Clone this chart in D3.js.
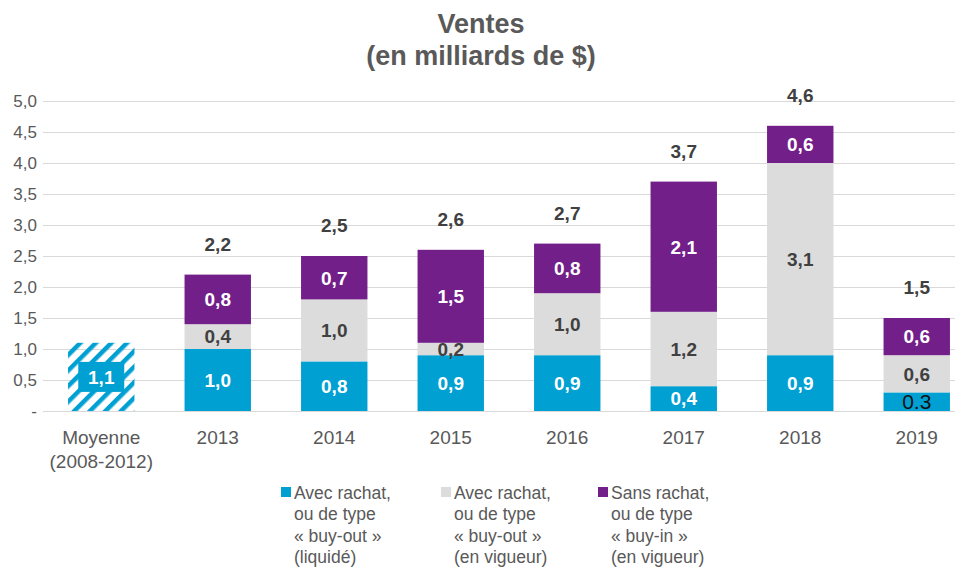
<!DOCTYPE html>
<html>
<head>
<meta charset="utf-8">
<script src="https://cdn.jsdelivr.net/npm/d3@7"></script>
<style>
  body { margin: 0; background: #fff; }
  text { font-family: "Liberation Sans", Arial, sans-serif; }
</style>
</head>
<body>
<script>
// categories and series
const categories = ["Moyenne (2008-2012)", "2013", "2014", "2015", "2016", "2017", "2018", "2019"];
const liquide = [1.1, 1.0, 0.8, 0.9, 0.9, 0.4, 0.9, 0.3];
const buyOut = [0, 0.4, 1.0, 0.2, 1.0, 1.2, 3.1, 0.6];
const buyIn = [0, 0.8, 0.7, 1.5, 0.8, 2.1, 0.6, 0.6];
const totals = [null, 2.2, 2.5, 2.6, 2.7, 3.7, 4.6, 1.5];
const yTicks = [0, 0.5, 1, 1.5, 2, 2.5, 3, 3.5, 4, 4.5, 5];
const seriesKeys = ["liquide", "buyOut", "buyIn"];
const legendLabels = [
  ["Avec rachat,", "ou de type", "« buy-out »", "(liquidé)"],
  ["Avec rachat,", "ou de type", "« buy-out »", "(en vigueur)"],
  ["Sans rachat,", "ou de type", "« buy-in »", "(en vigueur)"]
];

const width = 958, height = 568;
const colors = { liquide: "#00a0d3", buyOut: "#dcdcdc", buyIn: "#721f8a" };
const textGray = "#595959";
const fmt = v => d3.format(".1f")(v).replace(".", ",");

const data = categories.map((c, i) => ({ cat: c, liquide: liquide[i], buyOut: buyOut[i], buyIn: buyIn[i], total: totals[i] }));

const svg = d3.select("body").append("svg")
    .attr("width", width)
    .attr("height", height);

const defs = svg.append("defs");
const pat = defs.append("pattern")
    .attr("id", "hatch")
    .attr("patternUnits", "userSpaceOnUse")
    .attr("width", 11).attr("height", 11)
    .attr("patternTransform", "rotate(45)");
pat.append("rect").attr("width", 4.5).attr("height", 11).attr("fill", colors.liquide);

const x = d3.scaleBand()
    .domain(categories)
    .range([43, 975])
    .paddingInner(0.43)
    .paddingOuter(0.215);

const y = d3.scaleLinear()
    .domain([0, 5])
    .range([411, 101]);

// title
svg.append("text")
    .attr("x", 481).attr("y", 33)
    .attr("text-anchor", "middle")
    .attr("font-size", 27).attr("font-weight", "bold")
    .attr("fill", textGray)
    .text("Ventes");
svg.append("text")
    .attr("x", 481).attr("y", 65)
    .attr("text-anchor", "middle")
    .attr("font-size", 27).attr("font-weight", "bold")
    .attr("fill", textGray)
    .text("(en milliards de $)");

// y axis with gridlines
const yAxis = d3.axisLeft(y)
    .tickValues(yTicks)
    .tickSize(-912)
    .tickPadding(6)
    .tickFormat(d => d === 0 ? "-" : fmt(d));

svg.append("g")
    .attr("transform", "translate(43,0)")
    .call(yAxis)
    .call(g => g.select(".domain").remove())
    .call(g => g.selectAll(".tick line").attr("stroke", "#d9d9d9").attr("stroke-width", 1.2))
    .call(g => g.selectAll(".tick text")
        .attr("fill", textGray)
        .attr("font-size", 17)
        .attr("font-family", "Liberation Sans, Arial, sans-serif"));

// stacked bars
const stack = d3.stack().keys(seriesKeys)(data);

const layer = svg.append("g")
    .selectAll("g")
    .data(stack)
    .join("g");

layer.selectAll("rect")
    .data(d => d.map(p => ({ key: d.key, p })))
    .join("rect")
    .attr("x", d => x(d.p.data.cat))
    .attr("width", x.bandwidth())
    .attr("y", d => y(d.p[1]))
    .attr("height", d => y(d.p[0]) - y(d.p[1]))
    .attr("fill", d => (d.key === "liquide" && d.p.data.cat === categories[0]) ? "url(#hatch)" : colors[d.key]);

// hatched bar label box
const avg = data[0];
svg.append("rect")
    .attr("x", x(avg.cat) + x.bandwidth() / 2 - 23)
    .attr("y", y(avg.liquide / 2) - 15)
    .attr("width", 46).attr("height", 30)
    .attr("fill", colors.liquide);

// segment labels
const labels = [];
stack.forEach(s => s.forEach(p => {
  const v = p.data[s.key];
  if (!v) return;
  let txt = fmt(v), fill = s.key === "buyOut" ? "#404040" : "#fff", weight = "bold";
  if (s.key === "liquide" && p.data.cat === "2019") { txt = "0.3"; fill = "#111"; weight = "normal"; }
  labels.push({ cat: p.data.cat, mid: (p[0] + p[1]) / 2, txt, fill, weight });
}));

svg.append("g")
    .selectAll("text")
    .data(labels)
    .join("text")
    .attr("x", d => x(d.cat) + x.bandwidth() / 2)
    .attr("y", d => y(d.mid))
    .attr("dy", "0.36em")
    .attr("text-anchor", "middle")
    .attr("font-size", d => d.weight === "normal" ? 21 : 19)
    .attr("font-weight", d => d.weight)
    .attr("fill", d => d.fill)
    .text(d => d.txt);

// totals
svg.append("g")
    .selectAll("text")
    .data(data.filter(d => d.total != null))
    .join("text")
    .attr("x", d => x(d.cat) + x.bandwidth() / 2)
    .attr("y", d => y(d.liquide + d.buyOut + d.buyIn) - 24)
    .attr("text-anchor", "middle")
    .attr("font-size", 19).attr("font-weight", "bold")
    .attr("fill", "#404040")
    .text(d => fmt(d.total));

// x labels
const xl = svg.append("g")
    .selectAll("text")
    .data(categories)
    .join("text")
    .attr("x", d => x(d) + x.bandwidth() / 2)
    .attr("y", 444)
    .attr("text-anchor", "middle")
    .attr("font-size", 19)
    .attr("fill", textGray);
xl.each(function (d) {
  const parts = d.startsWith("Moyenne") ? ["Moyenne", "(2008-2012)"] : [d];
  d3.select(this).selectAll("tspan")
    .data(parts)
    .join("tspan")
    .attr("x", x(d) + x.bandwidth() / 2)
    .attr("dy", (p, i) => i ? 24 : 0)
    .text(p => p);
});

// legend
const legX = [281, 441, 598];
const leg = svg.append("g")
    .selectAll("g")
    .data(seriesKeys)
    .join("g")
    .attr("transform", (d, i) => `translate(${legX[i]},487)`);

leg.append("rect")
    .attr("width", 10).attr("height", 10)
    .attr("fill", d => colors[d]);

leg.append("text")
    .attr("x", 13).attr("y", 12)
    .attr("font-size", 17.5)
    .attr("fill", textGray)
    .selectAll("tspan")
    .data((d, i) => legendLabels[i])
    .join("tspan")
    .attr("x", 13)
    .attr("dy", (d, i) => i ? 21.3 : 0)
    .text(d => d);
</script>
</body>
</html>
